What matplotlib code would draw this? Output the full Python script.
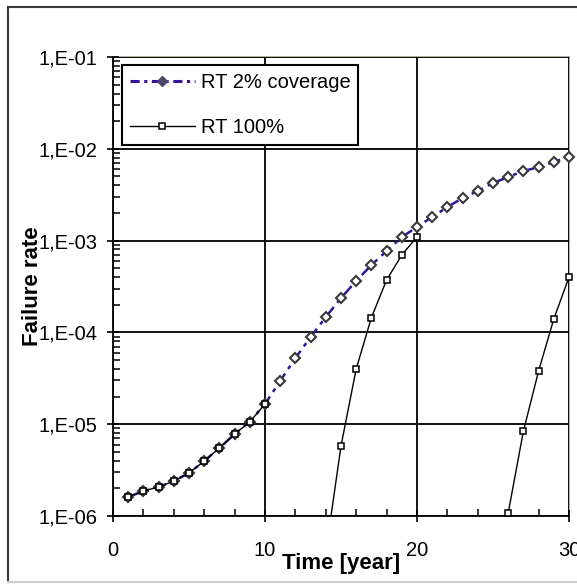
import numpy as np
import matplotlib
matplotlib.use("Agg")
import matplotlib.pyplot as plt
from matplotlib.ticker import FixedLocator, FixedFormatter, LogLocator, NullFormatter, MultipleLocator
from matplotlib.lines import Line2D

plt.rcParams['font.family'] = ['Liberation Sans', 'DejaVu Sans']

# ---- data ----
years = list(range(1, 31))
rt_2pct = [1.61e-6, 1.87e-6, 2.07e-6, 2.40e-6, 2.94e-6, 3.97e-6, 5.5e-6, 7.8e-6, 1.06e-5, 1.66e-5,
           2.96e-5, 5.26e-5, 8.9e-5, 1.47e-4, 2.37e-4, 3.63e-4, 5.42e-4, 7.7e-4, 1.09e-3, 1.41e-3,
           1.81e-3, 2.32e-3, 2.91e-3, 3.47e-3, 4.24e-3, 4.93e-3, 5.73e-3, 6.3e-3, 7.18e-3, 8.15e-3]
rt_100 = [1.61e-6, 1.87e-6, 2.07e-6, 2.40e-6, 2.94e-6, 3.97e-6, 5.5e-6, 7.8e-6, 1.06e-5, 1.66e-5,
          np.nan, np.nan, np.nan, 4.0e-7, 5.8e-6, 4.0e-5, 1.45e-4, 3.72e-4, 6.97e-4, 1.1e-3,
          np.nan, np.nan, np.nan, np.nan, np.nan, 1.08e-6, 8.4e-6, 3.8e-5, 1.40e-4, 4.0e-4]
series_labels = ["RT 2% coverage", "RT 100%"]
y_ticks = [1e-6, 1e-5, 1e-4, 1e-3, 1e-2, 1e-1]
y_ticklabels = ["1,E-06", "1,E-05", "1,E-04", "1,E-03", "1,E-02", "1,E-01"]
x_ticks = [0, 10, 20, 30]
x_ticklabels = ["0", "10", "20", "30"]
x_label = "Time [year]"
y_label = "Failure rate"

W, H = 577, 585
fig = plt.figure(figsize=(W / 100, H / 100), dpi=100)
ax = fig.add_axes([113 / W, 1 - 516 / H, (569 - 113) / W, (516 - 57) / H])

x = np.array(years, dtype=float)
y1 = np.array(rt_2pct, dtype=float)
y2 = np.array(rt_100, dtype=float)
ymin, ymax = y_ticks[0], y_ticks[-1]

purple = '#35139a'
# RT 2% line
ax.plot(x, y1, color=purple, lw=1.8, ls=(0, (5, 2.2, 1.6, 2.2)), zorder=3)
ax.plot(x, y1, ls='none', marker='D', ms=5.5, mfc='white', mec='#3a3a3a', mew=1.5,
        zorder=4, clip_on=False)
# RT 100% line
ax.plot(x, y2, color='black', lw=1.0, zorder=5)
y2m = np.where(y2 >= ymin, y2, np.nan)
ax.plot(x, y2m, ls='none', marker='s', ms=4, mfc='white', mec='black', mew=1.1,
        zorder=6, clip_on=False)

ax.set_yscale('log')
ax.set_ylim(ymin, ymax)
ax.set_xlim(x_ticks[0], x_ticks[-1])

ax.yaxis.set_major_locator(FixedLocator(y_ticks))
ax.yaxis.set_major_formatter(FixedFormatter(y_ticklabels))
ax.yaxis.set_minor_locator(LogLocator(base=10, subs=np.arange(2, 10)))
ax.yaxis.set_minor_formatter(NullFormatter())
ax.xaxis.set_major_locator(FixedLocator(x_ticks))
ax.xaxis.set_major_formatter(FixedFormatter(x_ticklabels))
ax.xaxis.set_minor_locator(MultipleLocator(2))

ax.tick_params(axis='both', which='major', direction='inout', length=8, width=1.2,
               labelsize=14.5, colors='black')
ax.tick_params(axis='y', which='major', pad=7)
ax.tick_params(axis='x', which='major', pad=14)
ax.tick_params(axis='both', which='minor', direction='in', length=5, width=1.1)

ax.grid(True, which='major', color='black', lw=1.3)
ax.set_axisbelow(False)

for side in ['left', 'bottom']:
    ax.spines[side].set_color('black')
    ax.spines[side].set_linewidth(1.3)
for side in ['top', 'right']:
    ax.spines[side].set_color('#b0a899')
    ax.spines[side].set_linewidth(1.3)

ax.set_xlabel(x_label, fontsize=16, fontweight='bold')
ax.xaxis.set_label_coords(0.5, (516 - 553) / 459)
ax.set_ylabel(y_label, fontsize=16, fontweight='bold')
ax.yaxis.set_label_coords((43 - 113) / 456, 0.5)

handles = [
    Line2D([], [], color=purple, lw=2.2, ls=(0, (3, 1.5, 1, 1.5)), marker='D', ms=5.5,
           mfc='#4a4a6a', mec='#4a4a6a'),
    Line2D([], [], color='black', lw=1.0, marker='s', ms=4, mfc='white', mec='black', mew=1.1),
]
leg = ax.legend(handles, series_labels, loc='upper left',
                bbox_to_anchor=((122 - 113) / 456, (516 - 65) / 459),
                borderaxespad=0, fontsize=14.5, frameon=True, fancybox=False,
                edgecolor='black', framealpha=1, handlelength=3.2, handletextpad=0.3,
                labelspacing=1.3, borderpad=0.4)
leg.get_frame().set_linewidth(1.5)
leg.set_zorder(10)

# outer border
fig.add_artist(Line2D([8 / W, 8 / W], [1 - 7 / H, 1 - 582 / H], color='#3a3a3a', lw=1.5,
                      transform=fig.transFigure))
fig.add_artist(Line2D([8 / W, 1], [1 - 7 / H, 1 - 7 / H], color='#3a3a3a', lw=1.5,
                      transform=fig.transFigure))
fig.add_artist(Line2D([8 / W, 1], [1 - 582 / H, 1 - 582 / H], color='#cfcfcf', lw=1.5,
                      transform=fig.transFigure))

fig.savefig('out.png', dpi=100)
